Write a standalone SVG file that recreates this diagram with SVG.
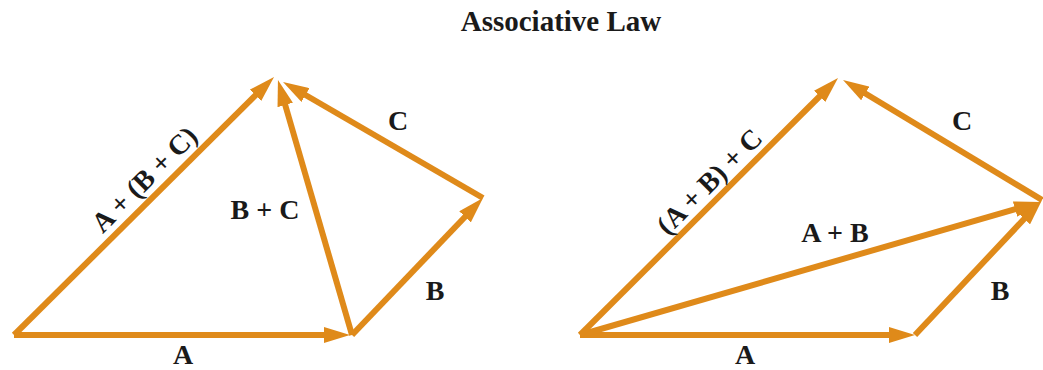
<svg xmlns="http://www.w3.org/2000/svg" width="1043" height="370" viewBox="0 0 1043 370">
<style>
.v{stroke:#DF8A1A;stroke-width:6;fill:none;marker-end:url(#ah)}
text{font-family:"Liberation Serif","Times New Roman",serif;font-weight:bold;fill:#1a1a1a;text-anchor:middle}
.l{font-size:28px}
.t{font-size:29px}
</style>
<defs>
<marker id="ah" markerUnits="userSpaceOnUse" viewBox="0 -8 26 16" refX="14" refY="0" markerWidth="26" markerHeight="16" orient="auto">
<path d="M0,-8 L26,0 L0,8 z" fill="#DF8A1A"/>
</marker>
</defs>
<rect width="1043" height="370" fill="#fff"/>
<text class="t" x="561" y="31">Associative Law</text>
<g id="connectors">
<line id="L-A" class="v" x1="14" y1="335" x2="338" y2="335"/>
<line id="L-B" class="v" x1="352" y1="335" x2="474.7" y2="206.7"/>
<line id="L-C" class="v" x1="483" y1="198" x2="293.4" y2="88"/>
<line id="L-BC" class="v" x1="352" y1="335" x2="281.3" y2="91.5"/>
<line id="L-ABC" class="v" x1="14" y1="335" x2="265.5" y2="85.4"/>
<line id="R-A" class="v" x1="580" y1="335" x2="903" y2="335"/>
<line id="R-B" class="v" x1="915" y1="335" x2="1033.8" y2="208.7"/>
<line id="R-AB" class="v" x1="580" y1="335" x2="1028.5" y2="205.3"/>
<line id="R-C" class="v" x1="1042" y1="200" x2="853.3" y2="86.2"/>
<line id="R-ABC" class="v" x1="580" y1="335" x2="829.5" y2="86.5"/>
</g>
<g id="left-labels">
<text class="l" x="183" y="364">A</text>
<text class="l" x="435" y="300">B</text>
<text class="l" x="398" y="130">C</text>
<text class="l" x="265" y="219">B + C</text>
<text class="l" transform="translate(151,186) rotate(-45)">A + (B + C)</text>
</g>
<g id="right-labels">
<text class="l" x="745" y="364">A</text>
<text class="l" x="1000" y="300">B</text>
<text class="l" x="962" y="130">C</text>
<text class="l" x="835" y="242">A + B</text>
<text class="l" transform="translate(716,188) rotate(-45)">(A + B) + C</text>
</g>
</svg>
